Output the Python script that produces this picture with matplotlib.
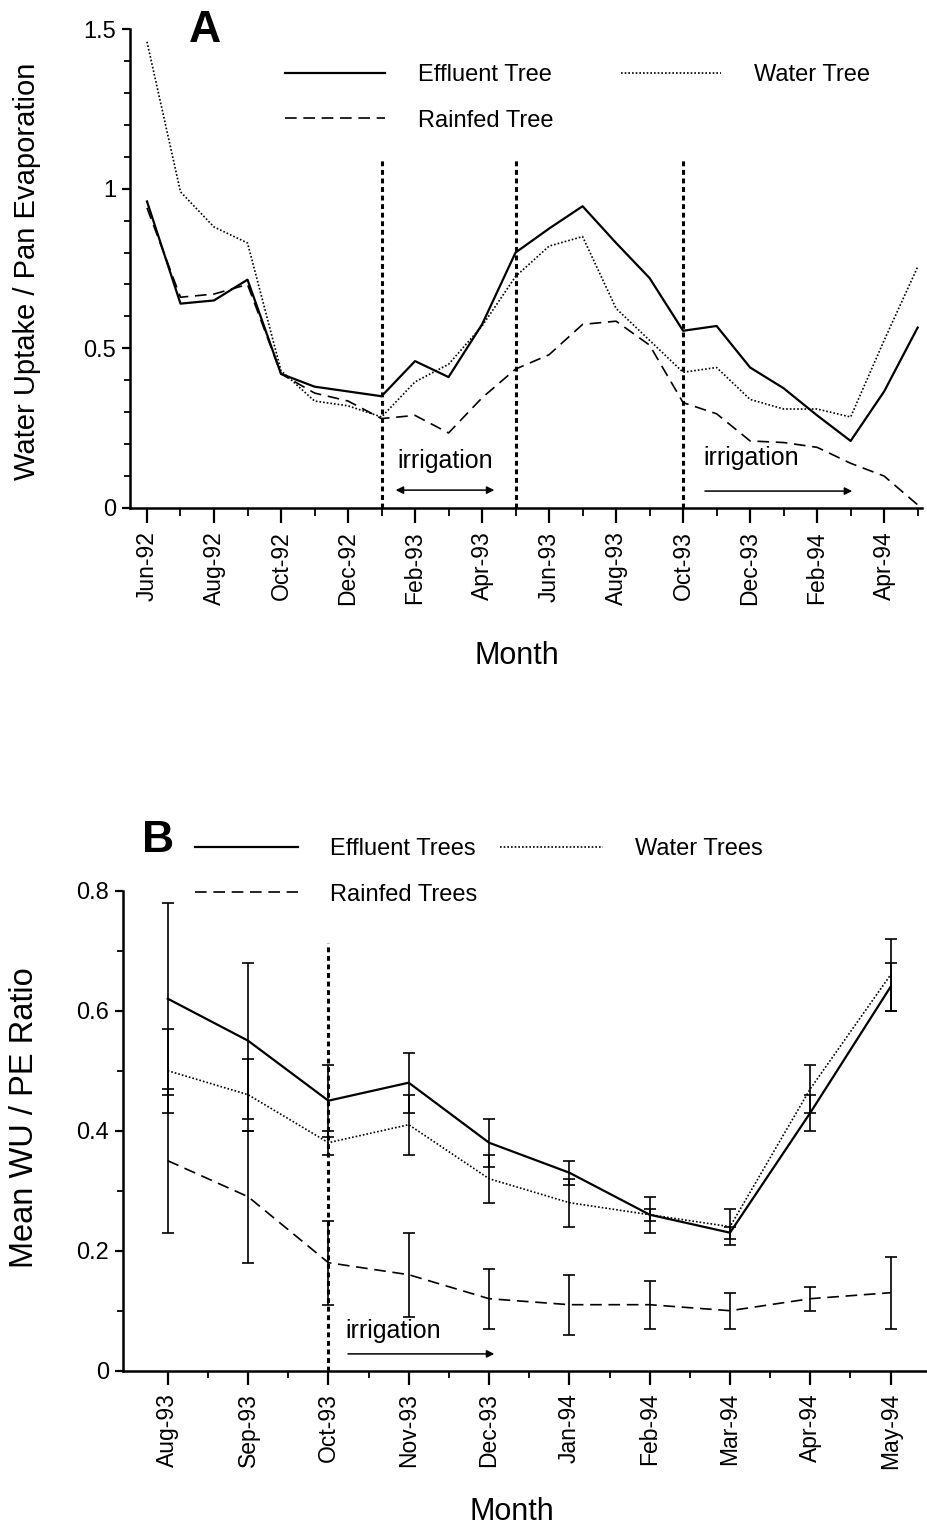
import matplotlib
matplotlib.use("Agg")
import matplotlib.pyplot as plt
from matplotlib.lines import Line2D
from matplotlib.ticker import MultipleLocator, FixedLocator, FuncFormatter

plt.rcParams['font.family'] = ['Liberation Sans', 'DejaVu Sans']

# ---------------- Panel A data (monthly, Jun-92 .. May-94) ----------------
months_a = ['Jun-92', 'Jul-92', 'Aug-92', 'Sep-92', 'Oct-92', 'Nov-92', 'Dec-92',
            'Jan-93', 'Feb-93', 'Mar-93', 'Apr-93', 'May-93', 'Jun-93', 'Jul-93',
            'Aug-93', 'Sep-93', 'Oct-93', 'Nov-93', 'Dec-93', 'Jan-94', 'Feb-94',
            'Mar-94', 'Apr-94', 'May-94']
effluent_a = [0.96, 0.64, 0.65, 0.715, 0.42, 0.38, 0.365, 0.35, 0.46, 0.41, 0.575, 0.80,
              0.875, 0.945, 0.83, 0.72, 0.555, 0.57, 0.44, 0.375, 0.29, 0.21, 0.365, 0.565]
water_a = [1.46, 0.99, 0.88, 0.83, 0.43, 0.335, 0.32, 0.285, 0.395, 0.45, 0.57, 0.725,
           0.82, 0.85, 0.625, 0.525, 0.425, 0.44, 0.34, 0.31, 0.31, 0.285, 0.525, 0.755]
rainfed_a = [0.94, 0.66, 0.67, 0.70, 0.42, 0.36, 0.335, 0.28, 0.29, 0.235, 0.345, 0.435,
             0.48, 0.575, 0.585, 0.51, 0.33, 0.295, 0.21, 0.205, 0.19, 0.14, 0.10, 0.01]
irrig_lines_a = ['Jan-93', 'May-93', 'Oct-93']

# ---------------- Panel B data ----------------
months_b = ['Aug-93', 'Sep-93', 'Oct-93', 'Nov-93', 'Dec-93', 'Jan-94', 'Feb-94',
            'Mar-94', 'Apr-94', 'May-94']
effluent_b = [0.62, 0.55, 0.45, 0.48, 0.38, 0.33, 0.26, 0.23, 0.43, 0.64]
effluent_b_err = [0.16, 0.13, 0.06, 0.05, 0.04, 0.02, 0.03, 0.01, 0.03, 0.04]
water_b = [0.50, 0.46, 0.38, 0.41, 0.32, 0.28, 0.26, 0.24, 0.47, 0.66]
water_b_err = [0.07, 0.06, 0.02, 0.05, 0.04, 0.04, 0.01, 0.03, 0.04, 0.06]
rainfed_b = [0.35, 0.29, 0.18, 0.16, 0.12, 0.11, 0.11, 0.10, 0.12, 0.13]
rainfed_b_err = [0.12, 0.11, 0.07, 0.07, 0.05, 0.05, 0.04, 0.03, 0.02, 0.06]
irrig_lines_b = ['Oct-93']

W, H = 928, 1531
fig = plt.figure(figsize=(W / 100, H / 100), dpi=100)

SOLID = dict(color='black', lw=1.6, linestyle='-')
DOT = dict(color='black', lw=1.2, linestyle=(0, (1, 1.2)))
DASH = dict(color='black', lw=1.2, linestyle=(0, (7, 4)))
VLINE = dict(color='black', lw=2.2, linestyle=(0, (1.6, 1.2)))

YTICKFS = 17
XTICKFS = 16.5
LEGFS = 17
IRRFS = 18
MONTHFS = 22


def style_axes(ax):
    for s in ('top', 'right'):
        ax.spines[s].set_visible(False)
    for s in ('left', 'bottom'):
        ax.spines[s].set_linewidth(1.8)
    ax.tick_params(axis='both', which='major', direction='out', width=1.6)
    ax.tick_params(axis='both', which='minor', direction='out', width=1.3)
    ax.tick_params(axis='y', which='major', length=6, pad=4, labelsize=YTICKFS)
    ax.tick_params(axis='y', which='minor', length=4)
    ax.tick_params(axis='x', which='major', labelsize=XTICKFS)


# ======================= Panel A =======================
axA = fig.add_axes([130 / W, 1 - 508 / H, (922 - 130) / W, (508 - 29) / H])
xa = list(range(len(months_a)))
axA.plot(xa, effluent_a, **SOLID)
axA.plot(xa, water_a, **DOT)
axA.plot(xa, rainfed_a, **DASH)
for m in irrig_lines_a:
    axA.vlines(months_a.index(m), 0, 1.09, **VLINE)

axA.set_xlim(-0.507, 23.13)
axA.set_ylim(0, 1.5)
style_axes(axA)
axA.yaxis.set_major_locator(FixedLocator([0, 0.5, 1.0, 1.5]))
axA.yaxis.set_minor_locator(MultipleLocator(0.1))
axA.yaxis.set_major_formatter(FuncFormatter(lambda v, p: f"{v:g}"))
axA.xaxis.set_major_locator(FixedLocator(xa[::2]))
axA.xaxis.set_minor_locator(FixedLocator(xa[1::2]))
axA.set_xticklabels(months_a[::2], rotation=90)
axA.tick_params(axis='x', which='major', length=11, pad=6)
axA.tick_params(axis='x', which='minor', length=6)

axA.annotate('', xy=(10.45, 0.056), xytext=(7.34, 0.056),
             arrowprops=dict(arrowstyle='<|-|>', lw=1.1, color='black', mutation_scale=11))
axA.text(8.9, 0.148, 'irrigation', fontsize=IRRFS, ha='center', va='center')
axA.annotate('', xy=(21.13, 0.053), xytext=(16.57, 0.053),
             arrowprops=dict(arrowstyle='-|>', lw=1.1, color='black', mutation_scale=11))
axA.text(16.6, 0.158, 'irrigation', fontsize=IRRFS, ha='left', va='center')

hA = [Line2D([], [], **SOLID), Line2D([], [], **DASH), Line2D([], [], **DOT)]
lA = ['Effluent Tree', 'Rainfed Tree', 'Water Tree']
axA.legend(hA, lA, ncol=2, loc='upper left', bbox_to_anchor=(0.196, 0.927),
           frameon=False, fontsize=LEGFS, borderpad=0, borderaxespad=0,
           handlelength=4.24, handletextpad=1.4, labelspacing=1.0, columnspacing=2.84)

fig.text(205 / W, 1 - 30 / H, 'A', fontsize=32, fontweight='bold', ha='center', va='center')
fig.text(27 / W, 1 - 271 / H, 'Water Uptake / Pan Evaporation', fontsize=21,
         rotation=90, ha='center', va='center')
fig.text(517 / W, 1 - 656 / H, 'Month', fontsize=MONTHFS, ha='center', va='center')

# ======================= Panel B =======================
axB = fig.add_axes([123 / W, 1 - 1370.7 / H, (926 - 123) / W, (1370.7 - 890.7) / H])
xb = list(range(len(months_b)))
ebkw = dict(capsize=4, elinewidth=1.2, capthick=1.2, ecolor='black')
axB.errorbar(xb, effluent_b, yerr=effluent_b_err, **SOLID, **ebkw)
axB.errorbar(xb, water_b, yerr=water_b_err, **DOT, **ebkw)
axB.errorbar(xb, rainfed_b, yerr=rainfed_b_err, **DASH, **ebkw)
for m in irrig_lines_b:
    axB.vlines(months_b.index(m), 0, 0.713, **VLINE)

axB.set_xlim(-0.557, 9.44)
axB.set_ylim(0, 0.8)
style_axes(axB)
axB.yaxis.set_major_locator(MultipleLocator(0.2))
axB.yaxis.set_minor_locator(MultipleLocator(0.1))
axB.yaxis.set_major_formatter(FuncFormatter(lambda v, p: f"{v:g}"))
axB.xaxis.set_major_locator(FixedLocator(xb))
axB.xaxis.set_minor_locator(FixedLocator([x + 0.5 for x in xb]))
axB.set_xticklabels(months_b, rotation=90)
axB.tick_params(axis='x', which='major', length=10, pad=6)
axB.tick_params(axis='x', which='minor', length=5)

axB.annotate('', xy=(4.10, 0.028), xytext=(2.21, 0.028),
             arrowprops=dict(arrowstyle='-|>', lw=1.1, color='black', mutation_scale=11))
axB.text(2.21, 0.066, 'irrigation', fontsize=IRRFS, ha='left', va='center')

hB = [Line2D([], [], **SOLID), Line2D([], [], **DASH), Line2D([], [], **DOT)]
lB = ['Effluent Trees', 'Rainfed Trees', 'Water Trees']
axB.legend(hB, lB, ncol=2, loc='upper left', bbox_to_anchor=(0.0897, 1.11),
           frameon=False, fontsize=LEGFS, borderpad=0, borderaxespad=0,
           handlelength=4.36, handletextpad=1.36, labelspacing=1.0, columnspacing=0.97)

fig.text(158 / W, 1 - 840 / H, 'B', fontsize=32, fontweight='bold', ha='center', va='center')
fig.text(25 / W, 1 - 1118 / H, 'Mean WU / PE Ratio', fontsize=23.5,
         rotation=90, ha='center', va='center')
fig.text(512 / W, 1 - 1512 / H, 'Month', fontsize=MONTHFS, ha='center', va='center')

fig.savefig('out.png', dpi=100)
